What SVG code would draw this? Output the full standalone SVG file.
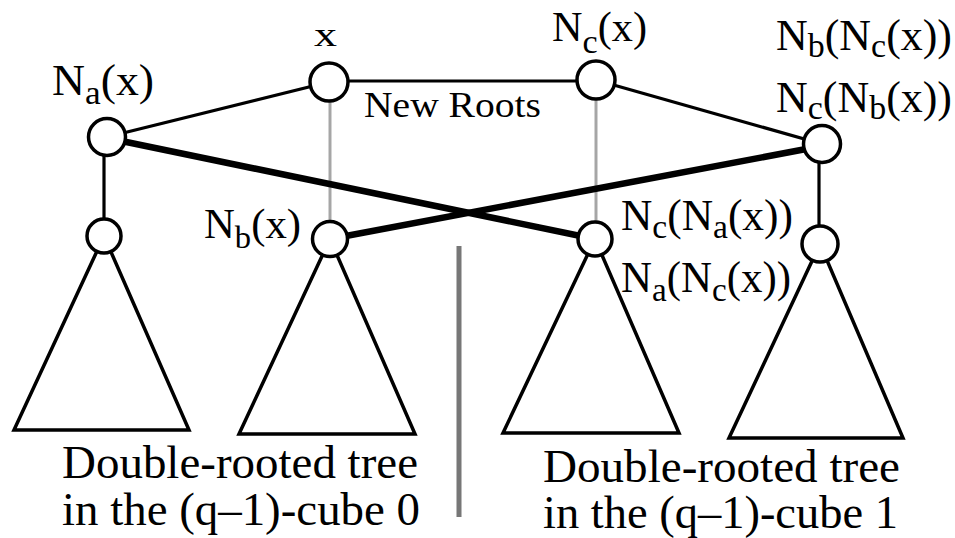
<svg xmlns="http://www.w3.org/2000/svg" width="955" height="538" viewBox="0 0 955 538">
<style>
.t{font-family:'Liberation Serif','Times New Roman',Times,serif;fill:#000}
.lbl{font-size:44px}
.sub{font-size:34px}
.cap{font-size:46px}
.tri{fill:none;stroke:#000;stroke-width:3.5;stroke-linejoin:miter}
.node{fill:#fff;stroke:#000;stroke-width:3.5}
.thin{stroke:#000;stroke-width:3.2;fill:none}
.thick{stroke:#000;stroke-width:6.5;fill:none}
.gray{stroke:#a6a6a6;stroke-width:3;fill:none}
</style>
<rect width="955" height="538" fill="#fff"/>
<g id="trees">
<polygon id="tree0a" class="tri" points="104,236 14,430 189,430"/>
<polygon id="tree0b" class="tri" points="330,239 239,434 415,434"/>
<polygon id="tree1a" class="tri" points="595,239 503,433 679,433"/>
<polygon id="tree1b" class="tri" points="820,244 729,438 903,438"/>
</g>
<g id="connectors">
<line class="thin" x1="107" y1="137" x2="329" y2="82"/>
<line class="thin" x1="329" y1="81" x2="596" y2="81"/>
<line class="thin" x1="596" y1="80" x2="822" y2="144"/>
<line class="thin" x1="104" y1="150" x2="104" y2="225"/>
<line class="thin" x1="819" y1="155" x2="819" y2="230"/>
<line class="gray" x1="330" y1="90" x2="330" y2="230"/>
<line class="gray" x1="596" y1="90" x2="596" y2="230"/>
<line class="thick" x1="107" y1="138" x2="595" y2="239"/>
<line class="thick" x1="330" y1="239" x2="822" y2="146"/>
<line id="divider" x1="459" y1="246" x2="459" y2="517" stroke="#777" stroke-width="5"/>
</g>
<g class="t" font-family="Liberation Serif, serif">
<g id="n-x">
<circle class="node" cx="329" cy="82" r="19"/>
<text x="314" y="46" font-size="33" textLength="23" lengthAdjust="spacingAndGlyphs">x</text>
</g>
<g id="n-na">
<circle class="node" cx="107" cy="137" r="18.5"/>
<text class="lbl" x="52" y="95" textLength="102" lengthAdjust="spacingAndGlyphs">N<tspan class="sub" dy="9">a</tspan><tspan dy="-9">(x)</tspan></text>
</g>
<g id="n-nc">
<circle class="node" cx="596" cy="80" r="19"/>
<text class="lbl" x="552" y="41" style="font-size:42px" textLength="95" lengthAdjust="spacingAndGlyphs">N<tspan class="sub" dy="12">c</tspan><tspan dy="-12">(x)</tspan></text>
</g>
<g id="n-ncnb">
<circle class="node" cx="822" cy="144" r="18.5"/>
<text class="lbl" x="776" y="50" textLength="176" lengthAdjust="spacingAndGlyphs">N<tspan class="sub" dy="7">b</tspan><tspan dy="-7">(N</tspan><tspan class="sub" dy="7">c</tspan><tspan dy="-7">(x))</tspan></text>
<text class="lbl" x="776" y="112" textLength="176" lengthAdjust="spacingAndGlyphs">N<tspan class="sub" dy="7">c</tspan><tspan dy="-7">(N</tspan><tspan class="sub" dy="7">b</tspan><tspan dy="-7">(x))</tspan></text>
</g>
<g id="n-root0">
<circle class="node" cx="104" cy="236" r="17"/>
</g>
<g id="n-nb">
<circle class="node" cx="330" cy="239" r="17.5"/>
<text class="lbl" x="204" y="238" style="font-size:42px" textLength="97" lengthAdjust="spacingAndGlyphs">N<tspan class="sub" style="font-size:32px" dy="10">b</tspan><tspan dy="-10">(x)</tspan></text>
</g>
<g id="n-ncna">
<circle class="node" cx="595" cy="239" r="17"/>
<text class="lbl" x="621" y="230" textLength="172" lengthAdjust="spacingAndGlyphs">N<tspan class="sub" dy="8">c</tspan><tspan dy="-8">(N</tspan><tspan class="sub" dy="8">a</tspan><tspan dy="-8">(x))</tspan></text>
<text class="lbl" x="621" y="292" textLength="170" lengthAdjust="spacingAndGlyphs">N<tspan class="sub" dy="9">a</tspan><tspan dy="-9">(N</tspan><tspan class="sub" dy="9">c</tspan><tspan dy="-9">(x))</tspan></text>
</g>
<g id="n-root1">
<circle class="node" cx="820" cy="244" r="18"/>
</g>
<g id="new-roots">
<text x="364" y="117" font-size="35" textLength="177" lengthAdjust="spacingAndGlyphs">New Roots</text>
</g>
<g id="caption0">
<text class="cap" x="62" y="478" textLength="356" lengthAdjust="spacingAndGlyphs">Double-rooted tree</text>
<text class="cap" x="62" y="525" textLength="358" lengthAdjust="spacingAndGlyphs">in the (q–1)-cube 0</text>
</g>
<g id="caption1">
<text class="cap" x="543" y="482" textLength="357" lengthAdjust="spacingAndGlyphs">Double-rooted tree</text>
<text class="cap" x="543" y="528" textLength="355" lengthAdjust="spacingAndGlyphs">in the (q–1)-cube 1</text>
</g>
</g>
</svg>
